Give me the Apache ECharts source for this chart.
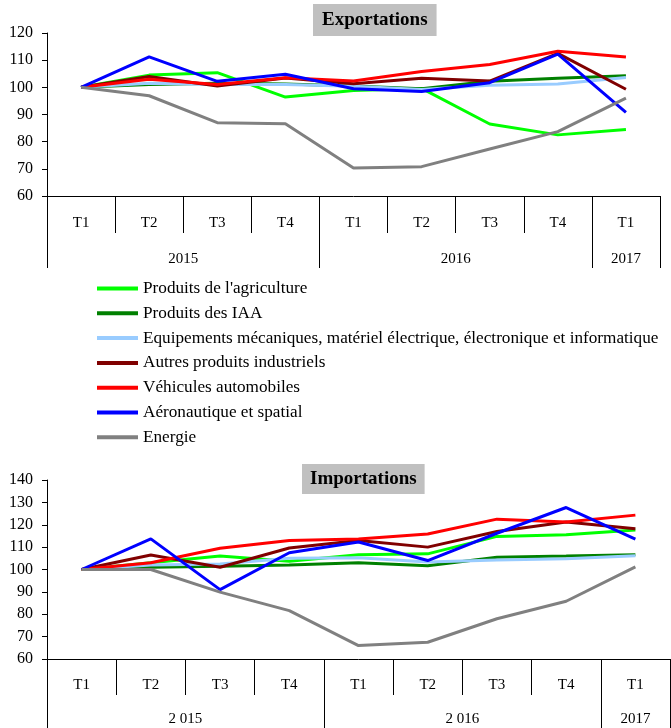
<!DOCTYPE html>
<html>
<head>
<meta charset="utf-8">
<script src="https://cdn.jsdelivr.net/npm/echarts@6/dist/echarts.min.js"></script>
<style>
  html, body { margin: 0; padding: 0; background: #fff; }
  #chart { width: 671px; height: 728px; }
</style>
</head>
<body>
<div id="chart"></div>
<script>
// categories
var quarters = ['T1', 'T2', 'T3', 'T4', 'T1', 'T2', 'T3', 'T4', 'T1'];
var yearsTop = ['2015', '2016', '2017'];
var yearsBottom = ['2 015', '2 016', '2017'];

var names = [
  "Produits de l'agriculture",
  'Produits des IAA',
  'Equipements mécaniques, matériel électrique, électronique et informatique',
  'Autres produits industriels',
  'Véhicules automobiles',
  'Aéronautique et spatial',
  'Energie'
];
var colors = ['#00ff00', '#008000', '#99ccff', '#800000', '#ff0000', '#0000ff', '#808080'];

// exportations
var expAgri = [100, 104.5, 105.4, 96.4, 98.8, 99.6, 86.5, 82.5, 84.5];
var expIAA = [100, 101, 101.5, 101.2, 100.5, 99.5, 102.2, 103.3, 104.3];
var expEquip = [100, 101.5, 101, 101, 100.4, 99.2, 100.8, 101.2, 103.6];
var expAutres = [100, 104, 100.5, 103.4, 101.3, 103.3, 102.3, 112.5, 99.3];
var expVehic = [100, 103, 101, 103.5, 102.3, 105.8, 108.4, 113.3, 111.2];
var expAero = [100, 111.2, 102.2, 104.8, 99.5, 98.5, 101.7, 112.2, 90.8];
var expEnergie = [100, 96.9, 87, 86.6, 70.3, 70.8, 77.3, 83.7, 96];

// importations
var impAgri = [100, 103, 106, 103.7, 106.6, 107, 114.8, 115.5, 117.6];
var impIAA = [100, 101, 101.5, 102, 103, 101.7, 105.5, 106, 106.6];
var impEquip = [100, 102, 102.5, 105, 105.3, 103.3, 104.2, 104.8, 106.2];
var impAutres = [100, 106.5, 101, 109.6, 113, 110, 117, 121.2, 118.2];
var impVehic = [100, 103, 109.5, 113, 113.6, 115.9, 122.5, 121.2, 124.3];
var impAero = [100, 113.7, 91, 107.5, 112.3, 104, 116.2, 127.7, 113.6];
var impEnergie = [100, 100, 89.9, 81.6, 66, 67.5, 78, 85.8, 101.2];

var expData = [expAgri, expIAA, expEquip, expAutres, expVehic, expAero, expEnergie];
var impData = [impAgri, impIAA, impEquip, impAutres, impVehic, impAero, impEnergie];

var font = 'Liberation Serif';
var txt = { color: '#000', fontFamily: font, fontSize: 15 };

function xAxes(gridIndex, years, tMargin, tLen, yMargin, yLen) {
  return [
    {
      type: 'category', gridIndex: gridIndex, data: quarters, boundaryGap: true,
      axisLine: { lineStyle: { color: '#000', width: 1 } },
      axisTick: { show: false }, axisLabel: { show: false }
    },
    {
      // ligne des trimestres
      type: 'value', gridIndex: gridIndex, min: 0, max: 9, position: 'bottom',
      axisLine: { show: false }, splitLine: { show: false },
      axisTick: { show: true, customValues: [1, 2, 3, 5, 6, 7], length: tLen, lineStyle: { color: '#000' } },
      axisLabel: Object.assign({
        customValues: [0.5, 1.5, 2.5, 3.5, 4.5, 5.5, 6.5, 7.5, 8.5], margin: tMargin,
        formatter: function (v) { return quarters[Math.floor(v)]; }
      }, txt)
    },
    {
      // ligne des années
      type: 'value', gridIndex: gridIndex, min: 0, max: 9, position: 'bottom',
      axisLine: { show: false }, splitLine: { show: false },
      axisTick: { show: true, customValues: [0, 4, 8, 9], length: yLen, lineStyle: { color: '#000' } },
      axisLabel: Object.assign({
        customValues: [2, 6, 8.5], margin: yMargin,
        formatter: function (v) { return v < 4 ? years[0] : (v < 8 ? years[1] : years[2]); }
      }, txt)
    }
  ];
}

function yAxis(gridIndex, max) {
  return {
    type: 'value', gridIndex: gridIndex, min: 60, max: max, interval: 10,
    axisLine: { show: true, lineStyle: { color: '#000' } },
    axisTick: { show: true, length: 5, lineStyle: { color: '#000' } },
    splitLine: { show: false },
    axisLabel: Object.assign({}, txt, { margin: 14, fontSize: 16 })
  };
}

var series = [];
names.forEach(function (n, i) {
  series.push({
    name: n, type: 'line', xAxisIndex: 0, yAxisIndex: 0, data: expData[i],
    symbol: 'none', lineStyle: { width: 3, color: colors[i] }, itemStyle: { color: colors[i] }
  });
});
names.forEach(function (n, i) {
  series.push({
    name: n, type: 'line', xAxisIndex: 3, yAxisIndex: 1, data: impData[i],
    symbol: 'none', lineStyle: { width: 3, color: colors[i] }, itemStyle: { color: colors[i] }
  });
});

var chart = echarts.init(document.getElementById('chart'));
chart.setOption({
  animation: false,
  title: [
    {
      text: 'Exportations', left: 313, top: 4, backgroundColor: '#c0c0c0', padding: [7, 9, 6, 9],
      textStyle: { fontFamily: font, fontSize: 19, fontWeight: 'bold', color: '#000' }
    },
    {
      text: 'Importations', left: 302, top: 464, backgroundColor: '#c0c0c0', padding: [6, 8, 5, 8],
      textStyle: { fontFamily: font, fontSize: 19, fontWeight: 'bold', color: '#000' }
    }
  ],
  legend: {
    data: names, orient: 'vertical', left: 97, top: 280, padding: 0, itemWidth: 41, itemHeight: 4,
    itemGap: 7.8, icon: 'rect', textStyle: Object.assign({}, txt, { fontSize: 17.2 }), selectedMode: false
  },
  grid: [
    { left: 47, right: 11, top: 33, height: 163 },
    { left: 47, right: 1, top: 480, height: 179 }
  ],
  xAxis: xAxes(0, yearsTop, 20, 37, 56, 72).concat(xAxes(1, yearsBottom, 19, 36, 53, 69)),
  yAxis: [yAxis(0, 120), yAxis(1, 140)],
  series: series
});
</script>
</body>
</html>
